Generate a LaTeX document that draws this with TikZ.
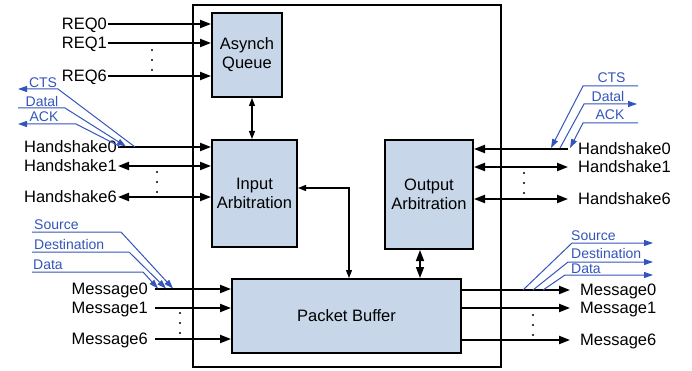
\documentclass[tikz,border=0pt]{standalone}
\usepackage{fontspec}
\setmainfont{Liberation Sans}
\usetikzlibrary{arrows.meta,positioning}

\definecolor{blockfill}{RGB}{199,214,232}
\definecolor{notecol}{RGB}{51,85,187}
\newcommand{\sigfont}{\fontsize{16.5}{19}\selectfont}
\newcommand{\notefont}{\fontsize{14}{16}\selectfont}

\tikzset{
  chip/.style={draw, line width=1.8pt, inner sep=0pt, minimum width=308pt, minimum height=362pt},
  block/.style={draw, line width=2pt, fill=blockfill, align=center, font=\sigfont},
  sig/.style={font=\sigfont, inner sep=0pt, text height=11.8pt, text depth=0pt},
  note/.style={font=\notefont, text=notecol, inner sep=0pt, text height=10pt, text depth=0pt},
  bus/.style={line width=2pt, >={Triangle[length=11pt,width=8pt]}},
  link/.style={line width=1.2pt, >={Triangle[length=8pt,width=6pt]}},
  wire/.style={notecol, line width=1pt, >={Triangle[length=9pt,width=6pt]}},
}

\begin{document}
\begin{tikzpicture}[x=1pt,y=-1pt]
\useasboundingbox (0,0) rectangle (692,371);
%\draw[help lines] (0,0) grid (692,371);
\node[chip] (router) at (347,186) {};
\node[block, minimum width=70pt, minimum height=84pt] (queue) at (247,55) {Asynch\\Queue};
\node[block, minimum width=85pt, minimum height=107pt] (inarb) at (254.5,193.5) {Input\\Arbitration};
\node[block, minimum width=88pt, minimum height=109pt] (outarb) at (429,194.5) {Output\\Arbitration};
\node[block, minimum width=229pt, minimum height=74pt] (pbuf) at (346.5,316) {Packet Buffer};

% inside links
\draw[link,<->] ([xshift=5pt]queue.south) -- ([xshift=5pt]queue.south |- inarb.north);
\draw[link,<->] ([yshift=5.5pt]inarb.east) -| ([xshift=2.5pt]pbuf.north);
\draw[bus,line width=1.5pt,<->] ([xshift=-9pt]outarb.south) -- ([xshift=-9pt]outarb.south |- pbuf.north);

% requests
\foreach \n/\y in {0/24,1/43,6/76}{
  \coordinate (rq\n) at (108,\y);
  \node[sig, left=1pt of rq\n] (req\n) {REQ\n};
  \draw[bus,->] (rq\n) -- (rq\n -| queue.west);
}

% handshakes
\coordinate (hl0) at (118,147);
\coordinate (hl1) at (118,166);
\coordinate (hl6) at (118,197);
\coordinate (hr0) at (568,149);
\coordinate (hr1) at (568,167);
\coordinate (hr6) at (568,199);
\foreach \n in {0,1,6}{
  \node[sig, left=1pt of hl\n] (hsl\n) {Handshake\n};
  \node[sig, right=10pt of hr\n] (hsr\n) {Handshake\n};
}
\draw[bus,->] (hl0) -- (hl0 -| inarb.west);
\draw[bus,->] (hr0) -- (hr0 -| outarb.east);
\foreach \n in {1,6}{
  \draw[bus,<->] (hl\n) -- (hl\n -| inarb.west);
  \draw[bus,<->] (hr\n) -- (hr\n -| outarb.east);
}

% messages
\coordinate (ml0) at (155,289);
\coordinate (ml1) at (155,308);
\coordinate (ml6) at (155,339);
\coordinate (mr0) at (570,290);
\coordinate (mr1) at (570,308);
\coordinate (mr6) at (570,340);
\foreach \n in {0,1,6}{
  \node[sig, left=7pt of ml\n] (msl\n) {Message\n};
  \node[sig, right=10pt of mr\n] (msr\n) {Message\n};
  \draw[bus,->] (ml\n) -- (ml\n -| pbuf.west);
  \draw[bus,->] (mr\n -| pbuf.east) -- (mr\n);
}

% dots
\foreach \x/\y in {152/50,157/172,180/313,524/173,533/315}
  \foreach \k in {0,1,2} \fill (\x,\y+10*\k) circle (1.1pt);

% handshake signals
\coordinate (ctsl) at (18,89);
\coordinate (datl) at (18,108);
\coordinate (ackl) at (18,124);
\coordinate (ctsr) at (551,148);
\coordinate (datr) at (637,104);
\coordinate (ackr) at (570,148);
\node[note] (ctsla) at (43,83) {CTS};
\node[note] (datla) at (42,102) {Datal};
\node[note] (ackla) at (44,117) {ACK};
\node[note] (ctsra) at (611.5,78) {CTS};
\node[note] (datra) at (608,97) {Datal};
\node[note] (ackra) at (610,115) {ACK};
\draw[wire,->] (135,147) -- (58,89) -- (ctsl);
\draw[wire,->] (datl) -- (65,108) -- (126,146.5);
\draw[wire,->] (120,146.5) -- (76,124) -- (ackl);
\draw[wire,->] (638,86) -- (583,86) -- (ctsr);
\draw[wire,->] (560,148) -- (584,104) -- (datr);
\draw[wire,->] (638,123) -- (583,123) -- (ackr);

% message fields
\coordinate (srcl) at (173,288.5);
\coordinate (dstl) at (166,288.5);
\coordinate (dtal) at (158,288.5);
\coordinate (srcr) at (653,243);
\coordinate (dstr) at (653,262);
\coordinate (dtar) at (653,275);
\node[note, anchor=west] (srcla) at (34,224) {Source};
\node[note, anchor=west] (dstla) at (34,244) {Destination};
\node[note, anchor=west] (dtala) at (33,264) {Data};
\node[note, anchor=west] (srcra) at (571,235) {Source};
\node[note, anchor=west] (dstra) at (571,253) {Destination};
\node[note, anchor=west] (dtara) at (571,268) {Data};
\draw[wire,->] (32,232) -- (121,232) -- (srcl);
\draw[wire,->] (32,252) -- (129,252) -- (dstl);
\draw[wire,->] (32,272) -- (143,272) -- (dtal);
\draw[wire,->] (523,290) -- (572,243) -- (srcr);
\draw[wire,->] (533,290) -- (568,262) -- (dstr);
\draw[wire,->] (543,290) -- (565,275) -- (dtar);
\end{tikzpicture}
\end{document}
